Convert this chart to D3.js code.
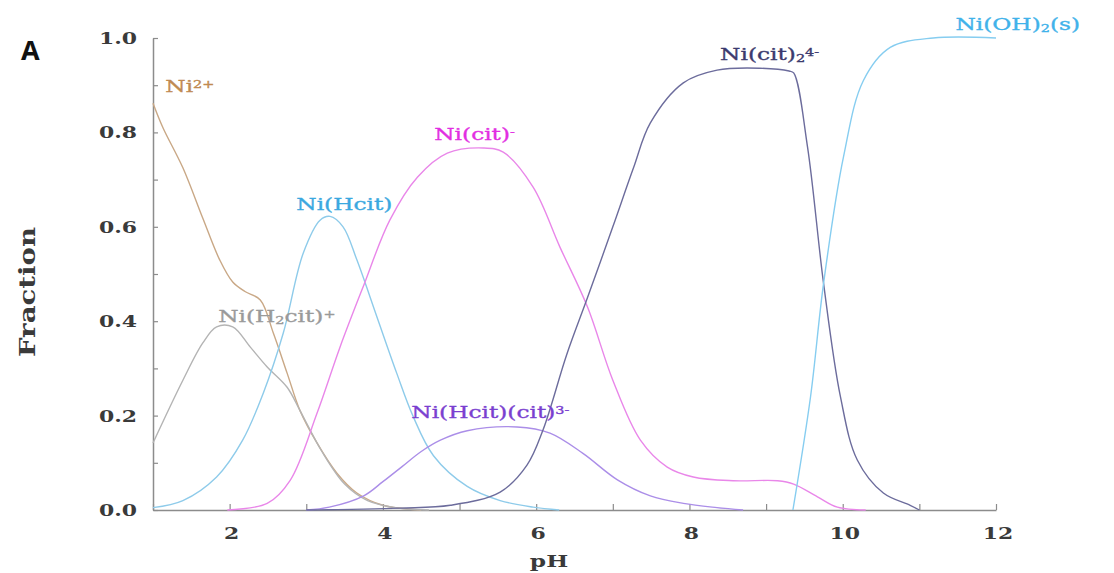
<!DOCTYPE html>
<html>
<head>
<meta charset="utf-8">
<script src="https://cdn.jsdelivr.net/npm/d3@7"></script>
<style>
  body { margin: 0; background: #fff; }
</style>
</head>
<body>
<div id="chart"></div>
<script>
// species distribution vs pH, values as [pH, fraction]
const ni2 = [[1, 0.862], [1.13, 0.81], [1.39, 0.725], [1.65, 0.618], [1.87, 0.53], [2.04, 0.483], [2.2, 0.463],
  [2.4, 0.445], [2.57, 0.375], [2.75, 0.29], [2.92, 0.21], [3.14, 0.142], [3.4, 0.078], [3.66, 0.036], [4.0, 0.01], [4.5, 0]];
const niH2cit = [[1, 0.142], [1.39, 0.275], [1.65, 0.354], [1.83, 0.388], [2.04, 0.388], [2.27, 0.345], [2.49, 0.303],
  [2.75, 0.26], [2.92, 0.21], [3.2, 0.125], [3.5, 0.055], [3.8, 0.02], [4.2, 0.004], [4.6, 0]];
const niHcit = [[1, 0.005], [1.39, 0.02], [1.83, 0.07], [2.17, 0.148], [2.44, 0.248], [2.7, 0.375], [2.96, 0.544],
  [3.18, 0.614], [3.31, 0.622], [3.48, 0.6], [3.66, 0.53], [3.92, 0.41], [4.18, 0.29], [4.39, 0.2], [4.66, 0.115],
  [5.1, 0.05], [5.53, 0.02], [5.96, 0.006], [6.3, 0]];
const niCit = [[1.97, 0], [2.49, 0.014], [2.79, 0.063], [3.14, 0.205], [3.44, 0.345], [3.74, 0.472], [4.09, 0.614],
  [4.45, 0.705], [4.84, 0.756], [5.31, 0.767], [5.57, 0.758], [5.96, 0.684], [6.31, 0.557], [6.67, 0.43], [7.0, 0.275],
  [7.36, 0.148], [7.71, 0.091], [8.05, 0.07], [8.57, 0.062], [9.15, 0.062], [9.36, 0.055], [9.67, 0.028], [9.93, 0.006], [10.3, 0]];
const niHcitCit = [[3.0, 0], [3.3, 0.006], [3.75, 0.03], [4.0, 0.06], [4.25, 0.092], [4.5, 0.124], [4.75, 0.148],
  [5.1, 0.168], [5.75, 0.176], [6.18, 0.163], [6.61, 0.12], [7.06, 0.064], [7.49, 0.03], [7.92, 0.014], [8.36, 0.005], [8.7, 0]];
const niCit2 = [[3.0, 0], [4.22, 0.004], [4.88, 0.01], [5.53, 0.038], [5.88, 0.095], [6.09, 0.17], [6.4, 0.33],
  [6.67, 0.45], [7.0, 0.6], [7.27, 0.725], [7.49, 0.82], [7.92, 0.905], [8.36, 0.932], [8.92, 0.936], [9.3, 0.93],
  [9.36, 0.926], [9.54, 0.77], [9.75, 0.48], [9.97, 0.24], [10.19, 0.106], [10.53, 0.036], [10.88, 0.01], [11.0, 0]];
const niOH2 = [[9.35, 0], [9.58, 0.24], [9.75, 0.48], [10.01, 0.748], [10.27, 0.91], [10.62, 0.98], [11.18, 1.0], [12, 1.0]];

const xTickValues = [1, 2, 3, 4, 5, 6, 7, 8, 9, 10, 11, 12];
const xTickLabels = ["", "2", "", "4", "", "6", "", "8", "", "10", "", "12"];
const yTickValues = [0, 0.1, 0.2, 0.3, 0.4, 0.5, 0.6, 0.7, 0.8, 0.9, 1.0];
const yTickLabels = ["0.0", "", "0.2", "", "0.4", "", "0.6", "", "0.8", "", "1.0"];

const width = 1114, height = 573;
const stretch = 1.37; // the figure's text is wide

const x = d3.scaleLinear().domain([1, 12]).range([153, 996]);
const y = d3.scaleLinear().domain([0, 1]).range([510, 38]);

const svg = d3.select("#chart").append("svg")
  .attr("width", width)
  .attr("height", height)
  .style("font-family", "'DejaVu Serif', serif");

// species: line colour, label colour, label anchor (pH, fraction), label pieces
const species = [
  {data: ni2, line: "#c9a886", color: "#c08a52", at: [1.16, 0.886], parts: [["Ni"], ["2+", "sup"]]},
  {data: niH2cit, line: "#b4b4b4", color: "#9a9a9a", at: [1.85, 0.398], parts: [["Ni(H"], ["2", "sub"], ["cit)"], ["+", "sup"]]},
  {data: niHcit, line: "#8ecbea", color: "#3aa8e0", at: [2.87, 0.636], parts: [["Ni(Hcit)"]]},
  {data: niCit, line: "#e987e9", color: "#e22ee2", at: [4.67, 0.784], parts: [["Ni(cit)"], ["-", "sup"]]},
  {data: niHcitCit, line: "#ab8ee8", color: "#7a3fd0", at: [4.37, 0.195], parts: [["Ni(Hcit)(cit)"], ["3-", "sup"]]},
  {data: niCit2, line: "#6c6c9c", color: "#3b3a6e", at: [8.40, 0.953], parts: [["Ni(cit)"], ["2", "sub"], ["4-", "sup"]]},
  {data: niOH2, line: "#86cdf0", color: "#40b2ea", at: [11.47, 1.017], parts: [["Ni(OH)"], ["2", "sub"], ["(s)"]]}
];

// axes, ticks drawn inward
const axisColor = "#8c8c8c";
svg.append("g")
  .attr("transform", `translate(${x(1)},0)`)
  .call(d3.axisLeft(y).tickValues(yTickValues).tickSizeInner(-5).tickSizeOuter(0).tickFormat(""));
svg.append("g")
  .attr("transform", `translate(0,${y(0)})`)
  .call(d3.axisBottom(x).tickValues(xTickValues).tickSizeInner(-6).tickSizeOuter(0).tickFormat(""));
svg.selectAll(".domain").attr("stroke", axisColor).attr("stroke-width", 1.5);
svg.selectAll(".tick line").attr("stroke", axisColor).attr("stroke-width", 1.2);

function wideText(g, px, py, parts, anchor) {
  const t = g.append("text")
    .attr("transform", `translate(${px},${py}) scale(${stretch},1)`)
    .attr("text-anchor", anchor || "start");
  parts.forEach(p => {
    const ts = t.append("tspan").text(p[0]);
    if (p[1] === "sup") ts.attr("baseline-shift", "35%").attr("font-size", "62%");
    if (p[1] === "sub") ts.attr("baseline-shift", "-18%").attr("font-size", "62%");
  });
  return t;
}

// tick labels
const labels = svg.append("g").attr("fill", "#3a3a3a").attr("font-weight", "bold").attr("font-size", 16);
yTickValues.forEach((v, i) => {
  if (yTickLabels[i]) wideText(labels, 137, y(v) + 6, [[yTickLabels[i]]], "end");
});
xTickValues.forEach((v, i) => {
  if (xTickLabels[i]) wideText(labels, x(v) + 2, 539, [[xTickLabels[i]]], "middle");
});

// axis titles
wideText(labels, 549, 567, [["pH"]], "middle").attr("font-size", 17);
svg.append("text")
  .attr("transform", "translate(35,292) rotate(-90) scale(1,1.35)")
  .attr("text-anchor", "middle")
  .attr("font-weight", "bold")
  .attr("font-size", 16)
  .attr("fill", "#3a3a3a")
  .attr("textLength", 130)
  .attr("lengthAdjust", "spacingAndGlyphs")
  .text("Fraction");

// panel letter
svg.append("text")
  .attr("x", 21).attr("y", 60)
  .attr("font-family", "'Open Sans', sans-serif")
  .attr("font-weight", "bold")
  .attr("font-size", 27)
  .attr("fill", "#111")
  .text("A");

// curves
const line = d3.line()
  .x(d => x(d[0]))
  .y(d => y(Math.max(0, d[1])))
  .curve(d3.curveCatmullRom.alpha(0.5));

svg.append("g").selectAll("path")
  .data(species)
  .enter()
  .append("path")
  .attr("d", d => line(d.data))
  .attr("fill", "none")
  .attr("stroke", d => d.line)
  .attr("stroke-width", 1.4);

// species labels
const names = svg.append("g").attr("font-size", 17);
species.forEach(s => {
  wideText(names, x(s.at[0]), y(s.at[1]), s.parts)
    .attr("fill", s.color)
    .attr("stroke", s.color)
    .attr("stroke-width", 0.35);
});
</script>
</body>
</html>
